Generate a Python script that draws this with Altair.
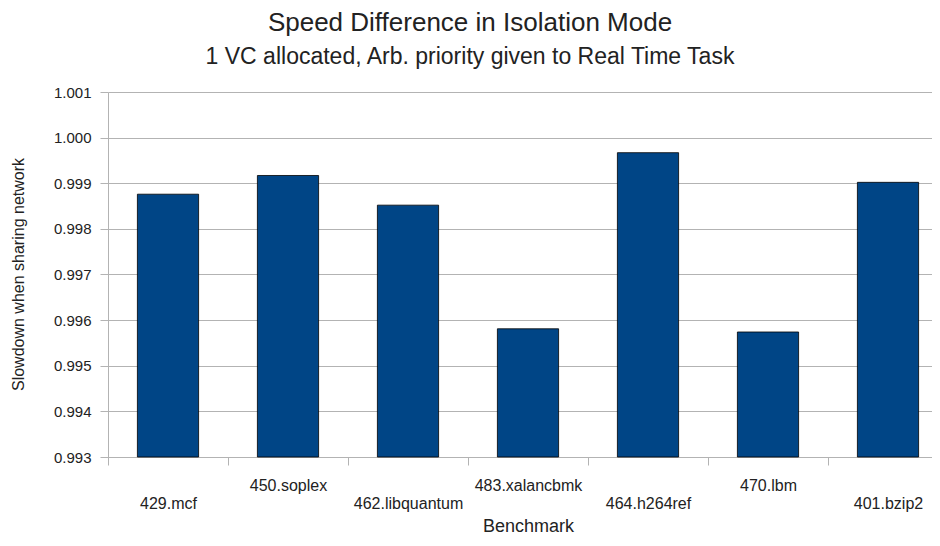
import altair as alt
import pandas as pd

benchmarks = ["429.mcf", "450.soplex", "462.libquantum", "483.xalancbmk",
              "464.h264ref", "470.lbm", "401.bzip2"]
slowdown = [0.99876, 0.99917, 0.99852, 0.99581, 0.99967, 0.99574, 0.99902]
y_ticks = [0.993, 0.994, 0.995, 0.996, 0.997, 0.998, 0.999, 1.000, 1.001]
upper_row = ["450.soplex", "483.xalancbmk", "470.lbm"]

df = pd.DataFrame({"Benchmark": benchmarks, "Slowdown": slowdown})

FONT = "Liberation Sans"
TXT = "#222222"
GRID = "#b3b3b3"

upper_test = "indexof([" + ",".join("'%s'" % b for b in upper_row) + "], datum.value) >= 0"

x = alt.X(
    "Benchmark:N",
    sort=benchmarks,
    title="Benchmark",
    scale=alt.Scale(range=[0, 840], paddingInner=0, paddingOuter=0),
    axis=alt.Axis(
        labelAngle=0,
        tickBand="extent",
        tickSize=8,
        tickColor=GRID,
        domainColor=GRID,
        grid=False,
        labelBaseline="middle",
        labelPadding={"condition": {"test": upper_test, "value": 20}, "value": 38},
        labelFontSize=16,
        labelFont=FONT,
        labelColor=TXT,
        labelOverlap=False,
        titleFont=FONT,
        titleFontSize=18,
        titleFontWeight="normal",
        titleColor=TXT,
        titleY=69,
        titleBaseline="middle",
    ),
)

y = alt.Y(
    "Slowdown:Q",
    title="Slowdown when sharing network",
    scale=alt.Scale(domain=[0.993, 1.001], zero=False, nice=False),
    axis=alt.Axis(
        values=y_ticks,
        format=".3f",
        tickSize=8,
        tickColor=GRID,
        domainColor=GRID,
        gridColor=GRID,
        labelPadding=9,
        labelFontSize=15,
        labelFont=FONT,
        labelColor=TXT,
        titleFont=FONT,
        titleFontSize=16,
        titleFontWeight="normal",
        titleColor=TXT,
        titleX=-90,
        titleY=182,
        titleBaseline="middle",
        titleAlign="center",
    ),
)

chart = (
    alt.Chart(df)
    .mark_bar(width=alt.RelativeBandSize(0.51), color="#004586",
              stroke="#000000", strokeWidth=0.8)
    .encode(x=x, y=y, y2=alt.datum(0.993))
    .properties(
        width=824,
        height=365,
        autosize=alt.AutoSizeParams(type="none"),
        padding={"left": 100, "top": 84, "right": 0, "bottom": 81},
        title=alt.TitleParams(
            text="Speed Difference in Isolation Mode",
            subtitle="1 VC allocated, Arb. priority given to Real Time Task",
            anchor="middle",
            frame="group",
            dx=-50,
            font=FONT,
            subtitleFont=FONT,
            fontSize=26,
            subtitleFontSize=23,
            fontWeight="normal",
            color=TXT,
            subtitleColor=TXT,
            offset=16,
            subtitlePadding=10,
        ),
    )
    .configure_view(strokeWidth=0)
)

chart.save("out.html", embed_options={"renderer": "svg", "actions": False})
